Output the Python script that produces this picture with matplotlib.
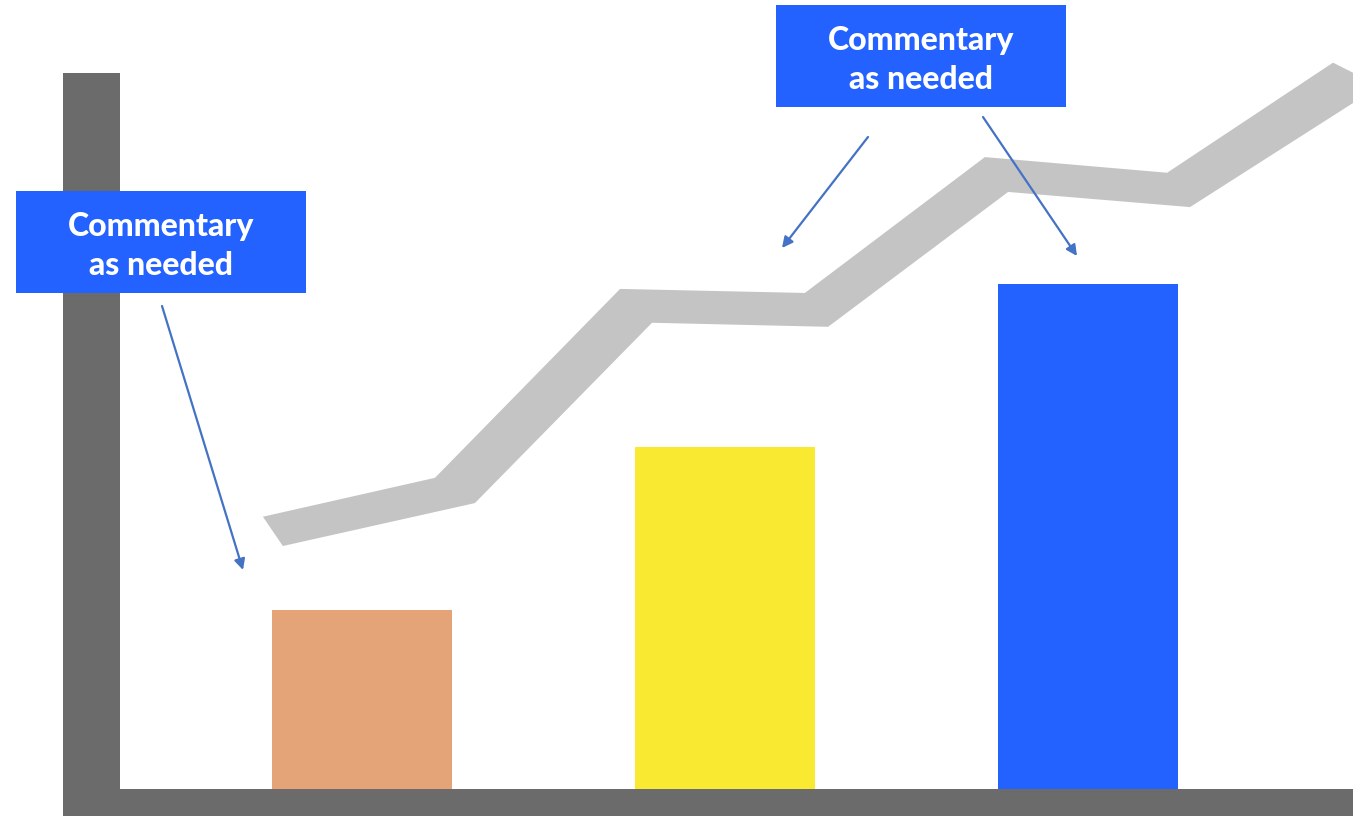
import matplotlib
matplotlib.use("Agg")
import matplotlib.pyplot as plt
from matplotlib.patches import Rectangle, Polygon

# bar chart data
categories = [1, 2, 3]
values = [35.5, 67.7, 100.0]
bar_colors = ["#E5A378", "#F9EA31", "#2462FF"]

# gray trend ribbon: upper and lower edge
band_top_x = [0.727, 1.201, 1.711, 2.220, 2.716, 3.218, 3.675, 3.730]
band_top_y = [53.9, 61.6, 99.0, 98.2, 125.1, 122.0, 143.8, 141.8]
band_bot_x = [0.782, 1.311, 1.799, 2.284, 2.780, 3.281, 3.730]
band_bot_y = [48.1, 56.6, 92.3, 91.5, 118.2, 115.2, 135.8]

comment = "Commentary\nas needed"

W, H = 1353, 816


def fpos(x, y):
    # pixel position in the picture -> figure fraction
    return (x / W, 1 - y / H)


fig = plt.figure(figsize=(W / 100, H / 100), dpi=100)
ax = fig.add_axes([0, 0, 1, 1])
ax.set_xlim(0.0028, 3.730)
ax.set_ylim(-5.35, 156.2)
ax.axis("off")

AXIS_GRAY = "#6B6B6B"
ax.add_patch(Rectangle((0.176, -5.35), 0.333 - 0.176, 141.8 + 5.35, color=AXIS_GRAY, lw=0, zorder=4))
ax.add_patch(Rectangle((0.176, -5.35), 3.73 - 0.176, 5.35, color=AXIS_GRAY, lw=0, zorder=4))

ax.bar(categories, values, width=0.496, color=bar_colors, zorder=2)

band = list(zip(band_top_x, band_top_y)) + list(zip(band_bot_x[::-1], band_bot_y[::-1]))
ax.add_patch(Polygon(band, closed=True, color="#C4C4C4", lw=0, zorder=3))

BOX_BLUE = "#2462FF"
ARROW_BLUE = "#4472C4"
boxes = [(16, 191, 306, 293), (776, 5, 1066, 107)]
for x0, y0, x1, y1 in boxes:
    fx0, fy1 = fpos(x0, y1)
    fx1, fy0 = fpos(x1, y0)
    fig.patches.append(Rectangle((fx0, fy1), fx1 - fx0, fy0 - fy1, transform=fig.transFigure,
                                 color=BOX_BLUE, lw=0, zorder=5))
    cx, cy = fpos((x0 + x1) / 2, (y0 + y1) / 2 + 4)
    fig.text(cx, cy, comment, color="white", fontsize=23, fontweight=900, family="Lato",
             ha="center", va="center", linespacing=1.38, zorder=6)

arrows = [((162, 306), (243, 570)), ((868, 137), (782, 248)), ((983, 117), (1077, 256))]
for start, end in arrows:
    ax.annotate("", xy=fpos(*end), xytext=fpos(*start), xycoords="figure fraction",
                textcoords="figure fraction",
                arrowprops=dict(arrowstyle="-|>", color=ARROW_BLUE, lw=1.6, mutation_scale=16,
                                shrinkA=0, shrinkB=0),
                zorder=6)

fig.savefig("out.png", dpi=100)
